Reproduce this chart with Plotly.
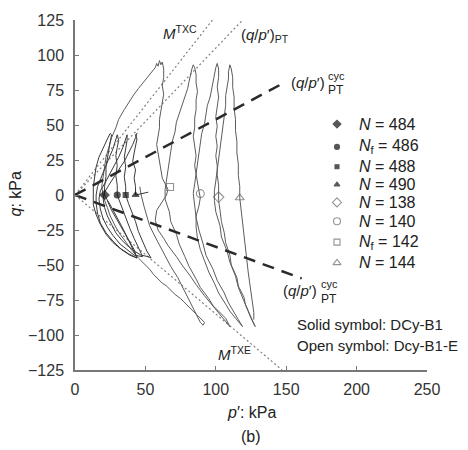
import plotly.graph_objects as go

# ---------------- DATA ----------------
# Stress path of test DCy-B1 (solid symbols): (p', q) in kPa
path_dcy_b1 = [
    (52, 2), (48, 1), (43, 0), (43, 6), (42, 12), (43, 18), (41, 24), (42, 30), (43, 35), (44, 40), (43, 43), (44, 44),
    (43, 41), (41, 36), (38, 30), (35, 24), (31, 18), (27, 12), (24, 7), (21, 2), (20, -3), (21, -9), (23, -15),
    (26, -21), (29, -27), (33, -32), (37, -36), (42, -40), (47, -43), (52, -44), (54, -45), (51, -40), (48, -33),
    (45, -26), (43, -19), (40, -12), (38, -6), (36, 0),
    (36, 6), (35, 13), (36, 20), (35, 27), (36, 33), (37, 39), (37, 43), (36, 40), (34, 34), (31, 27), (28, 21),
    (24, 14), (21, 8), (18, 3), (17, -3), (18, -10), (20, -17), (23, -23), (27, -29), (32, -35), (37, -39),
    (42, -43), (48, -44), (45, -38), (42, -31), (39, -24), (36, -16), (33, -9), (31, -3), (30, 0),
    (30, 7), (29, 14), (30, 21), (29, 28), (30, 34), (31, 39), (30, 43), (29, 39), (27, 33), (24, 26), (21, 19),
    (18, 12), (16, 6), (15, 0), (15, -6), (16, -13), (18, -20), (22, -27), (27, -33), (32, -38), (38, -42),
    (44, -45), (41, -38), (37, -30), (33, -22), (29, -14), (25, -7), (22, -2), (21, 0),
    (21, 6), (22, 13), (22, 20), (23, 27), (24, 33), (25, 38), (26, 43), (25, 44), (23, 40), (20, 34), (17, 27),
    (15, 20), (14, 13), (13, 6), (13, 0), (13, -7), (15, -14), (18, -21), (22, -28), (27, -34), (33, -39),
    (39, -43), (44, -45), (42, -39), (38, -32), (34, -25), (30, -18), (26, -11), (23, -4),
]

# Stress path of test Dcy-B1-E (open symbols): (p', q) in kPa
path_dcy_b1e = [
    (46, 6), (47, 0), (49, -8), (51, -15), (53, -22), (57, -30), (60, -36), (65, -45), (68, -51), (73, -59),
    (76, -65), (80, -72), (82, -77), (86, -84), (88, -88), (89, -91), (91, -93), (92, -91),
    (88, -87), (84, -83), (80, -79), (75, -74), (71, -71), (65, -65), (62, -63), (56, -57), (53, -53), (48, -48),
    (45, -45), (40, -39), (37, -35), (32, -28), (29, -23), (25, -15), (23, -9), (20, -1), (19, 6), (20, 13),
    (21, 20), (22, 27), (24, 34), (26, 41), (29, 48), (31, 54), (35, 61), (38, 66), (42, 72), (45, 76), (50, 82),
    (53, 86), (55, 88), (57, 91), (58, 94), (59, 92), (60, 96), (61, 93), (62, 95),
    (63, 90), (63, 84), (62, 78), (63, 72), (62, 66), (61, 60), (60, 54), (60, 48), (59, 42), (58, 36), (59, 30),
    (60, 24), (61, 18), (62, 12), (64, 8), (66, 4), (65, 0), (62, -5), (58, -11), (57, -18), (59, -25), (63, -31),
    (66, -36), (72, -44), (76, -50), (82, -58), (86, -64), (92, -72), (96, -77), (101, -83), (104, -87),
    (108, -92), (110, -94),
    (107, -88), (103, -84), (98, -79), (95, -74), (89, -66), (86, -60), (81, -51), (78, -44), (74, -35), (72, -28),
    (68, -19), (67, -12), (64, -3), (64, 4), (65, 10), (66, 17), (67, 24), (68, 31), (69, 38), (71, 45), (72, 52),
    (74, 58), (76, 64), (78, 70), (80, 76), (81, 81), (82, 86), (83, 90), (84, 93), (85, 91),
    (86, 86), (86, 80), (87, 74), (86, 68), (86, 61), (85, 55), (85, 48), (84, 42), (85, 35), (86, 28), (85, 21),
    (86, 14), (87, 8), (88, 3), (89, -2),
    (88, -8), (86, -15), (86, -23), (87, -31), (89, -39), (92, -47), (95, -55), (99, -63), (102, -70), (107, -78),
    (110, -83), (114, -88), (117, -92), (119, -94),
    (116, -89), (113, -84), (109, -77), (106, -70), (101, -61), (98, -53), (93, -43), (91, -35), (88, -25),
    (86, -16), (85, -7), (84, 1), (85, 8), (86, 15), (87, 22), (88, 30), (89, 37), (90, 44), (92, 51), (93, 58),
    (94, 64), (96, 70), (97, 76), (98, 82), (99, 87), (100, 91), (101, 94), (102, 90),
    (102, 84), (101, 77), (102, 70), (101, 63), (100, 56), (101, 49), (100, 42), (101, 35), (100, 28), (101, 21),
    (101, 14), (102, 7), (102, 1), (102, -4),
    (103, -11), (104, -19), (106, -27), (107, -34), (110, -43), (111, -50), (115, -59), (116, -65), (120, -73),
    (121, -78), (124, -85), (126, -90), (128, -94),
    (125, -88), (122, -81), (120, -75), (116, -66), (114, -58), (110, -48), (108, -40), (104, -30), (103, -22),
    (100, -12), (99, -4), (99, 3), (100, 10), (101, 18), (102, 26), (103, 34), (104, 42), (105, 50), (106, 57),
    (107, 64), (107, 71), (108, 77), (109, 83), (109, 88), (110, 93), (111, 90),
    (112, 84), (112, 77), (113, 70), (113, 62), (114, 54), (114, 46), (115, 38), (115, 30), (116, 22), (116, 14),
    (117, 6), (117, -2),
    (118, -10), (119, -19), (120, -28), (121, -37), (122, -46), (123, -55), (124, -63), (125, -71), (126, -78),
    (127, -84), (127, -89),
]

# Stress ratio lines (q/p')
slope_M_TXC = 1.28
slope_PT = 1.05
slope_cyc_comp = 0.54
slope_cyc_ext = -0.37
slope_M_TXE = -0.85

# Marked states (at q ~ 0)
marker_labels = ["<i>N</i> = 484", "<i>N</i><sub>f</sub> = 486", "<i>N</i> = 488", "<i>N</i> = 490",
                 "<i>N</i> = 138", "<i>N</i> = 140", "<i>N</i><sub>f</sub> = 142", "<i>N</i> = 144"]
marker_p = [21, 30, 36, 43, 102, 89, 67.5, 117]
marker_q = [0, 0, 0, 0, -1.5, 1, 5.7, -2]

x_ticks = [0, 50, 100, 150, 200, 250]
y_ticks = [-125, -100, -75, -50, -25, 0, 25, 50, 75, 100, 125]

# ---------------- STYLE / LAYOUT ----------------
W, H = 468, 450
L, R, T, B = 75, 41, 17, 80
PW, PH = W - L - R, H - T - B
X_RANGE, Y_RANGE = (0, 250), (-125, 125)
FONT = "Liberation Sans, Arial, sans-serif"

def px2paper(px, py):
    return (px - L) / PW, (H - B - py) / PH

def px2data(px, py):
    fx, fy = px2paper(px, py)
    return (X_RANGE[0] + fx * (X_RANGE[1] - X_RANGE[0]),
            Y_RANGE[0] + fy * (Y_RANGE[1] - Y_RANGE[0]))

marker_symbols = ["diamond", "circle", "square", "triangle-up",
                  "diamond-open", "circle-open", "square-open", "triangle-up-open"]
marker_colors = ["#111"] * 4 + ["#666"] * 4
marker_sizes = [7, 6, 5, 6, 8, 8, 7, 8]

fig = go.Figure()

# reference lines (p-extent of each line)
ref_lines = [(slope_M_TXC, 98), (slope_PT, 119), (slope_M_TXE, 147)]
for s, pmax in ref_lines:
    fig.add_trace(go.Scatter(x=[0, pmax], y=[0, s * pmax], mode="lines",
                             line=dict(color="#808080", width=1.2, dash="2px,2.5px"),
                             showlegend=False, hoverinfo="skip"))

for pts, col in ((path_dcy_b1e, "#5c5c5c"), (path_dcy_b1, "#3a3a3a")):
    fig.add_trace(go.Scatter(x=[a for a, b in pts], y=[b for a, b in pts], mode="lines",
                             line=dict(color=col, width=1), showlegend=False, hoverinfo="skip"))

for s, pmax in ((slope_cyc_comp, 150), (slope_cyc_ext, 161)):
    fig.add_trace(go.Scatter(x=[0, pmax], y=[0, s * pmax], mode="lines",
                             line=dict(color="#2a2a2a", width=2.5, dash="12px,8px"),
                             showlegend=False, hoverinfo="skip"))

fig.add_trace(go.Scatter(
    x=marker_p, y=marker_q, mode="markers",
    marker=dict(symbol=marker_symbols, size=marker_sizes, color=marker_colors,
                line=dict(width=1.1, color=marker_colors)),
    showlegend=False, hoverinfo="skip"))

# custom legend: symbols placed in the plot area, labels as annotations
legend_rows_px = [122, 145, 165, 183, 201, 220, 241, 262]
legend_marker_px = 337
legend_text_px = 357
leg_pts = [px2data(legend_marker_px, r) for r in legend_rows_px]
fig.add_trace(go.Scatter(
    x=[a for a, b in leg_pts], y=[b for a, b in leg_pts], mode="markers",
    marker=dict(symbol=marker_symbols, size=[s - 1 for s in marker_sizes], color=marker_colors,
                line=dict(width=1.1, color=marker_colors)),
    showlegend=False, hoverinfo="skip"))

annotations = []
def ann(text, px, py, size=15, xanchor="left", angle=0, color="#222"):
    x, y = px2paper(px, py)
    annotations.append(dict(text=text, x=x, y=y, xref="paper", yref="paper", xanchor=xanchor,
                            yanchor="middle", showarrow=False, textangle=angle,
                            font=dict(family=FONT, size=size, color=color)))

for lab, r in zip(marker_labels, legend_rows_px):
    ann(lab, legend_text_px, r, size=16)

ann("Solid symbol: DCy-B1", 295, 324, size=15)
ann("Open symbol: Dcy-B1-E", 295, 345, size=15)

ann("<i>M</i><sup>TXC</sup>", 161, 30, size=15)
ann("(<i>q</i>/<i>p</i>′)<sub>PT</sub>", 239, 33, size=15)
ann("(<i>q</i>/<i>p</i>′)", 289, 80, size=15)
ann("cyc", 326, 73, size=11)
ann("PT", 326, 88, size=12)
ann("(<i>q</i>/<i>p</i>′)", 281, 290, size=15)
ann("cyc", 319, 283, size=11)
ann("PT", 319, 298, size=12)
ann("<i>M</i><sup>TXE</sup>", 216, 353, size=15)

ann("<i>q</i>: kPa", 16, 193, size=16, xanchor="center", angle=-90)
ann("<i>p</i>′: kPa", 251, 413, size=16, xanchor="center")
ann("(b)", 251, 437, size=16, xanchor="center")

axis_common = dict(showgrid=False, zeroline=False, showline=True, linecolor="#777", linewidth=1.5,
                   ticks="inside", ticklen=4, tickcolor="#777", tickwidth=1.2,
                   tickfont=dict(family=FONT, size=16, color="#333"))

fig.update_layout(
    width=W, height=H, margin=dict(l=L, r=R, t=T, b=B),
    paper_bgcolor="white", plot_bgcolor="white",
    xaxis=dict(range=list(X_RANGE), tickvals=x_ticks, ticklabelstandoff=4, **axis_common),
    yaxis=dict(range=list(Y_RANGE), tickvals=y_ticks, ticklabelstandoff=6, **axis_common),
    annotations=annotations,
    showlegend=False,
)

fig.write_html("out.html")
